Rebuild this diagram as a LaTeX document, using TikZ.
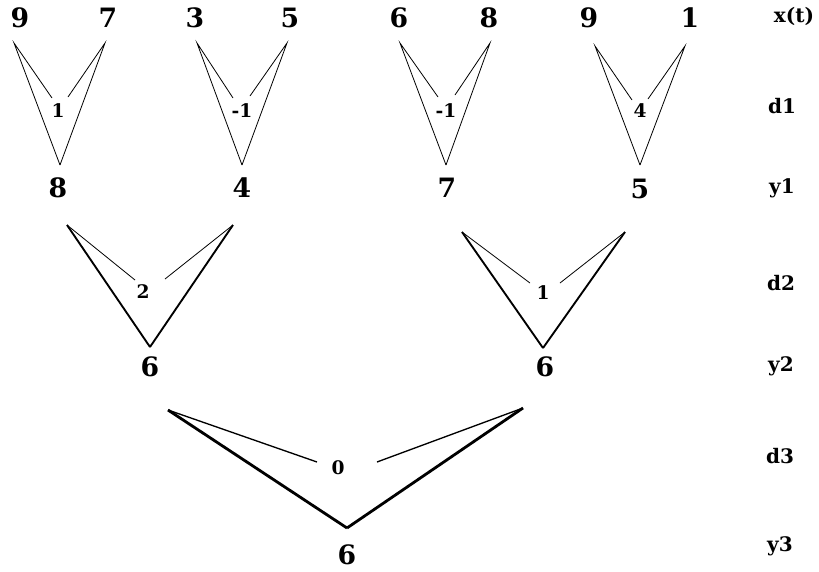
\documentclass[tikz,border=0pt]{standalone}
\usepackage{fontspec}
\setmainfont{DejaVu Serif}
\usetikzlibrary{positioning}

\begin{document}
\begin{tikzpicture}[x=0.75pt,y=-0.75pt,
        num/.style={font=\fontsize{20}{24}\selectfont\bfseries,inner sep=0pt},
        dif/.style={font=\fontsize{14}{17}\selectfont\bfseries,inner sep=0pt},
        lbl/.style={font=\fontsize{15}{18}\selectfont\bfseries,inner sep=0pt},
        wa/.style={line width=0.6pt},
        wb/.style={line width=1.4pt},
        wc/.style={line width=2.1pt}]
        \useasboundingbox (0,0) rectangle (819,572);
        % input x(t)
        \node[num] (x1) at (20,18) {9};
        \node[num] (x2) at (108,18) {7};
        \node[num] (x3) at (195,18) {3};
        \node[num] (x4) at (290,18) {5};
        \node[num] (x5) at (399,18) {6};
        \node[num] (x6) at (489,18) {8};
        \node[num] (x7) at (589,18) {9};
        \node[num] (x8) at (690,18) {1};
        % level 1
        \node[dif] (d11) at (58,111) {1};
        \node[dif] (d12) at (242,111) {-1};
        \node[dif] (d13) at (446,111) {-1};
        \node[dif] (d14) at (640,111) {4};
        \node[num] (y11) at (58,188) {8};
        \node[num] (y12) at (242,188) {4};
        \node[num] (y13) at (447,188) {7};
        \node[num] (y14) at (640,189) {5};
        % level 2
        \node[dif] (d21) at (143,292) {2};
        \node[dif] (d22) at (543,293) {1};
        \node[num] (y21) at (150,367) {6};
        \node[num] (y22) at (545,367) {6};
        % level 3
        \node[dif] (d31) at (338,468) {0};
        \node[num] (y31) at (347,555) {6};
        % row names
        \node[lbl] (rx) at (794,16) {x(t)};
        \node[lbl] (rd1) at (782,106) {d1};
        \node[lbl] (ry1) at (782,188) {y1};
        \node[lbl] (rd2) at (781,283) {d2};
        \node[lbl] (ry2) at (781,366) {y2};
        \node[lbl] (rd3) at (780,456) {d3};
        \node[lbl] (ry3) at (780,546) {y3};

        % corners, tips and line ends
        \coordinate (a1) at (14,43);   \coordinate (b1) at (105,43);
        \coordinate (p1) at (52,98);   \coordinate (q1) at (68,97);   \coordinate (t1) at (60,165);
        \coordinate (a2) at (197,43);  \coordinate (b2) at (287,43);
        \coordinate (p2) at (233,98);  \coordinate (q2) at (250,96);  \coordinate (t2) at (242,165);
        \coordinate (a3) at (400,43);  \coordinate (b3) at (490,43);
        \coordinate (p3) at (438,97);  \coordinate (q3) at (455,95);  \coordinate (t3) at (446,165);
        \coordinate (a4) at (595,46);  \coordinate (b4) at (685,46);
        \coordinate (p4) at (632,100); \coordinate (q4) at (648,99);  \coordinate (t4) at (640,165);
        \coordinate (a5) at (67,225);  \coordinate (b5) at (233,225);
        \coordinate (p5) at (135,280); \coordinate (q5) at (165,279); \coordinate (t5) at (150,347);
        \coordinate (a6) at (462,232); \coordinate (b6) at (625,232);
        \coordinate (p6) at (530,283); \coordinate (q6) at (560,283); \coordinate (t6) at (543,348);
        \coordinate (a7) at (168,410); \coordinate (b7) at (523,408);
        \coordinate (p7) at (317,462); \coordinate (q7) at (377,462); \coordinate (t7) at (347,528);

        \foreach \i in {1,2,3,4} {
            \draw[wa] (t\i) -- (a\i) -- (p\i);
            \draw[wa] (t\i) -- (b\i) -- (q\i);
        }
        \foreach \i in {5,6} {
            \draw[wb] (t\i) -- (a\i);
            \draw[wb] (t\i) -- (b\i);
            \draw[wa] (a\i) -- (p\i);
            \draw[wa] (b\i) -- (q\i);
        }
        \draw[wc] (t7) -- (a7);
        \draw[wc] (t7) -- (b7);
        \draw[line width=1pt] (a7) -- (p7);
        \draw[line width=1pt] (b7) -- (q7);
    \end{tikzpicture}
\end{document}
